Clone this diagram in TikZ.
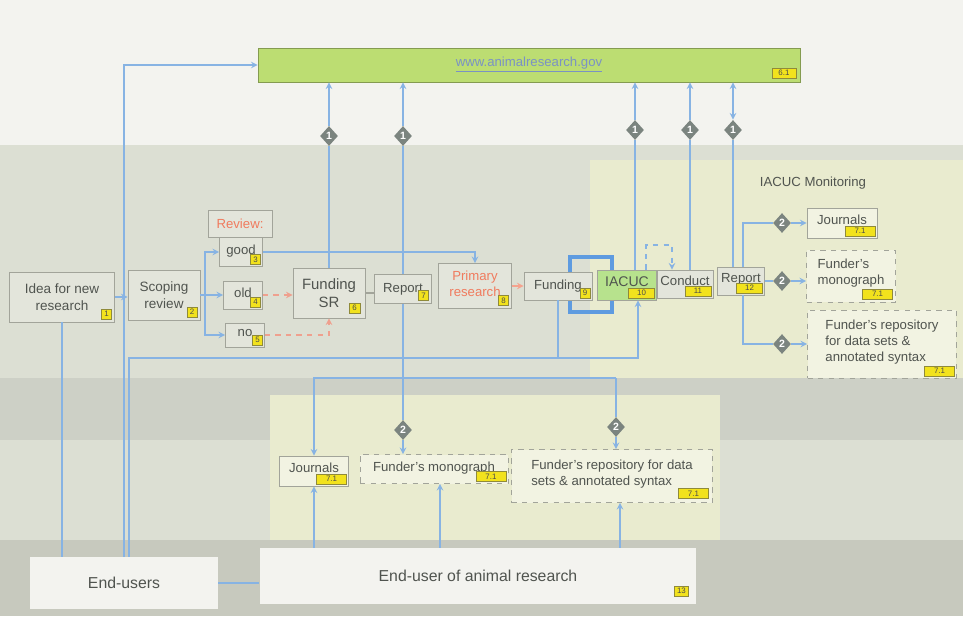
\documentclass[tikz,border=0pt]{standalone}
\usepackage{fontspec}
\setmainfont{Liberation Sans}
\usetikzlibrary{shapes.geometric}
\definecolor{bgtop}{HTML}{F3F3EF}
\definecolor{bgmid}{HTML}{DCDFD3}
\definecolor{bgyel}{HTML}{E9EBCF}
\definecolor{bgdark}{HTML}{CDD0C6}
\definecolor{bglow}{HTML}{C7C9BE}
\definecolor{boxgray}{HTML}{A2A49A}
\definecolor{boxfill}{HTML}{E3E5DB}
\definecolor{txtgray}{HTML}{50544F}
\definecolor{webgreen}{HTML}{BCDD72}
\definecolor{webtext}{HTML}{7A92C4}
\definecolor{iacucgreen}{HTML}{B7E28D}
\definecolor{badgeyellow}{HTML}{F2E21D}
\definecolor{badgeline}{HTML}{8F8A3A}
\definecolor{diagray}{HTML}{7B847F}
\definecolor{linkblue}{HTML}{87B3E3}
\definecolor{loopblue}{HTML}{5E9BE0}
\definecolor{redlink}{HTML}{EFA08E}
\definecolor{primorange}{HTML}{F07B5E}
\begin{document}
\begin{tikzpicture}[x=0.02cm,y=-0.02cm,>=stealth,
	box/.style={draw=boxgray,fill=boxfill,text=txtgray,align=center,inner sep=1pt,font=\fontsize{7.5}{9}\selectfont},
	dbox/.style={box,dashed,align=left},
	raised/.style={text depth=#1},
	whitebox/.style={fill=bgtop,text=txtgray,font=\fontsize{9}{11}\selectfont},
	badge/.style={draw=badgeline,fill=badgeyellow,text=black!70,inner sep=0pt,anchor=south east,font=\fontsize{4.5}{5}\selectfont},
	dia/.style={diamond,fill=diagray,text=white,inner sep=0pt,minimum width=0.36cm,minimum height=0.4cm,font=\fontsize{6}{6}\selectfont\bfseries},
	link/.style={draw=linkblue,line width=0.7pt},
	rlink/.style={draw=redlink,line width=0.7pt,dashed}]
	\useasboundingbox (0,0) rectangle (963,616);
	\fill[bgtop] (0,0) rectangle (963,616);
	\fill[bgmid] (0,145) rectangle (963,380);
	\fill[bgyel] (590,160) rectangle (963,385);
	\fill[bgdark] (0,378) rectangle (963,440);
	\fill[bgmid] (0,440) rectangle (963,545);
	\fill[bgyel] (270,395) rectangle (720,545);
	\fill[bglow] (0,540) rectangle (963,616);
	\draw[loopblue,line width=2.4pt] (570,257) rectangle (612,312);
	
	\node[box,fill=webgreen,draw=webgreen!70!black,text=webtext,minimum width=10.84cm,minimum height=0.68cm] (web) at (529,65) {\underline{www.animalresearch.gov}};
	\node[box,minimum width=2.1cm,minimum height=1cm,font=\fontsize{7.7}{9.5}\selectfont] (idea) at (62,297) {Idea for new\\research};
	\node[box,minimum width=1.44cm,minimum height=1cm,font=\fontsize{7.7}{9.5}\selectfont] (scoping) at (164,295) {Scoping\\review};
	\node[box,text=primorange,minimum width=1.28cm,minimum height=0.54cm] (review) at (240,224) {Review:};
	\node[box,raised=0.1cm,minimum width=0.86cm,minimum height=0.58cm] (good) at (241,252) {good};
	\node[box,raised=0.09cm,minimum width=0.78cm,minimum height=0.56cm] (old) at (243,295) {old};
	\node[box,raised=0.08cm,minimum width=0.78cm,minimum height=0.48cm] (no) at (245,335) {no};
	\node[box,minimum width=1.44cm,minimum height=1cm,font=\fontsize{8.5}{10.5}\selectfont] (fsr) at (329,293) {Funding\\SR};
	\node[box,raised=0.06cm,minimum width=1.14cm,minimum height=0.58cm] (rep7) at (403,289) {Report};
	\node[box,text=primorange,raised=0.1cm,minimum width=1.46cm,minimum height=0.9cm] (prim) at (475,286) {Primary\\research};
	\node[box,minimum width=1.36cm,minimum height=0.56cm] (fund9) at (558,286) {Funding};
	\node[box,fill=iacucgreen,raised=0.14cm,minimum width=1.18cm,minimum height=0.6cm,font=\fontsize{8}{10}\selectfont] (iacuc) at (627,285) {IACUC};
	\node[box,raised=0.14cm,minimum width=1.12cm,minimum height=0.56cm] (cond) at (685,284) {Conduct};
	\node[box,raised=0.14cm,minimum width=0.94cm,minimum height=0.56cm] (rep12) at (741,281) {Report};
	
	\node[text=txtgray,font=\fontsize{7.5}{9}\selectfont] (monlab) at (813,183) {IACUC Monitoring};
	\node[box,fill=bgyel!60!white,raised=0.14cm,minimum width=1.4cm,minimum height=0.6cm] (jr) at (842,223) {Journals};
	\node[dbox,fill=bgyel!60!white,raised=0.16cm,minimum width=1.78cm,minimum height=1.04cm] (mr) at (851,276) {Funder's\\monograph};
	\node[dbox,fill=bgyel!60!white,raised=0.14cm,minimum width=2.98cm,minimum height=1.36cm] (rr) at (882,344) {Funder's repository\\for data sets \&\\annotated syntax};
	
	\node[box,fill=bgyel!60!white,raised=0.14cm,minimum width=1.38cm,minimum height=0.6cm] (jb) at (314,471) {Journals};
	\node[dbox,fill=bgyel!60!white,raised=0.1cm,minimum width=2.96cm,minimum height=0.58cm] (mb) at (434,469) {Funder's monograph};
	\node[dbox,fill=bgyel!60!white,raised=0.12cm,minimum width=4.02cm,minimum height=1.06cm] (rb) at (612,476) {Funder's repository for data\\sets \& annotated syntax};
	
	\node[whitebox,minimum width=3.76cm,minimum height=1.04cm] (eu) at (124,583) {End-users};
	\node[whitebox,minimum width=8.74cm,minimum height=1.12cm] (ea) at (478,576) {End-user of animal research};
	
	\foreach \nm/\txt/\w/\ins in {idea/1/0.2/3,scoping/2/0.2/3,good/3/0.2/2,old/4/0.2/2,no/5/0.2/2,fsr/6/0.22/5,rep7/7/0.2/3,prim/8/0.2/3,fund9/9/0.2/2,iacuc/10/0.52/2,cond/11/0.52/2,rep12/12/0.52/2,jr/7.1/0.6/2,mr/7.1/0.6/3,rr/7.1/0.6/2,jb/7.1/0.6/2,mb/7.1/0.6/2,rb/7.1/0.6/4,web/6.1/0.48/4,ea/13/0.28/8}
	\node[badge,minimum width=\w cm,minimum height=0.2cm] (b-\nm) at ([shift={(-\ins,-\ins)}]\nm.south east) {\txt};
	
	\foreach \nm/\x/\y/\t in {t1/329/136/1,t2/403/136/1,t3/635/130/1,t4/690/130/1,t5/733/130/1,p1/403/430/2,p2/616/427/2,m1/782/223/2,m2/782/281/2,m3/782/344/2}
	\node[dia] (\nm) at (\x,\y) {\t};
	
	\coordinate (split) at (205,295);
	\coordinate (busL) at (129,358);
	\coordinate (busR) at (638,358);
	\coordinate (pubL) at (314,378);
	\coordinate (pubR) at (616,378);
	\coordinate (mup) at (440,0);
	\coordinate (rup) at (620,0);
	\coordinate (rsp) at (743,0);
	\coordinate (lp1) at (646,245);
	\coordinate (lp2) at (672,245);
	
	\draw[link,->] (fsr) -- (t1) -- (t1 |- web.south);
	\draw[link,->] (rep7) -- (t2) -- (t2 |- web.south);
	\draw[link,->] (t3 |- iacuc.north) -- (t3) -- (t3 |- web.south);
	\draw[link,->] (t4 |- cond.north) -- (t4) -- (t4 |- web.south);
	\draw[link,<->] (t5 |- rep12.north) -- (t5) -- (t5 |- web.south);
	\draw[link,->] (eu.north) |- (web.west);
	\draw[link,->] (busL |- eu.north) -- (busL) -- (busR) -- (busR |- iacuc.south);
	\draw[link] (fund9.south) -- (fund9.south |- busL);
	\draw[link] (idea.south) -- (idea.south |- eu.north);
	\draw[link] (eu.east) -- (eu.east -| ea.west);
	
	\draw[link,->] (idea.east) -- (idea.east -| scoping.west);
	\draw[link,->] (scoping.east) -- (scoping.east -| old.west);
	\draw[link,->] (split) |- (good.west);
	\draw[link,->] (split) |- (no.west);
	\draw[rlink,->] (old.east) -- (old.east -| fsr.west);
	\draw[rlink,->] (no.east) -| (fsr.south);
	\draw[link,->] (good.east) -| (prim.north);
	\draw[boxgray,line width=0.7pt] (fsr.east) -- (fsr.east -| rep7.west);
	\draw[primorange!70,line width=0.7pt,->] (prim.east) -- (prim.east -| fund9.west);
	\draw[link,dashed,->] (lp1 |- iacuc.north) -- (lp1) -- (lp2) -- (lp2 |- cond.north);
	
	\draw[link] (rep7) -- (p1);
	\draw[link,->] (p1) -- (p1 |- mb.north);
	\draw[link,->] (pubR) -- (pubL) -- (pubL |- jb.north);
	\draw[link] (pubR) -- (p2);
	\draw[link,->] (p2) -- (p2 |- rb.north);
	\draw[link,->] (jb.south |- ea.north) -- (jb.south);
	\draw[link,->] (mup |- ea.north) -- (mup |- mb.south);
	\draw[link,->] (rup |- ea.north) -- (rup |- rb.south);
	
	\draw[link] (rsp |- rep12.north) |- (m1);
	\draw[link,->] (m1) -- (jr);
	\draw[link] (rep12) -- (m2);
	\draw[link,->] (m2) -- (m2 -| mr.west);
	\draw[link] (rsp |- rep12.south) |- (m3);
	\draw[link,->] (m3) -- (m3 -| rr.west);
\end{tikzpicture}
\end{document}
